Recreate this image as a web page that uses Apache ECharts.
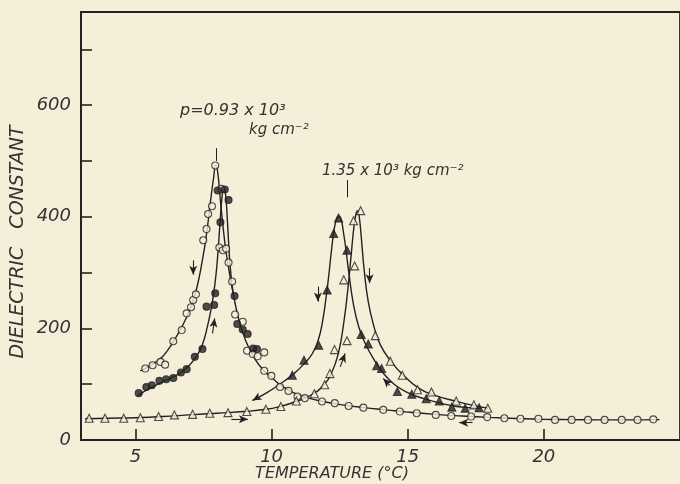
<!DOCTYPE html>
<html><head><meta charset="utf-8">
<script src="https://cdn.jsdelivr.net/npm/echarts@6/dist/echarts.min.js"></script>
<style>html,body{margin:0;padding:0;background:#f5efd9}#c{width:680px;height:484px}</style>
</head><body><div id="c"></div>
<script>
// ---- tick values ----
const xTickValues = [5, 10, 15, 20];
const yTickValues = [100, 200, 300, 400, 500, 600, 700];
const yLabelValues = [0, 200, 400, 600];

// ---- p = 0.93e3 kg/cm2, open circles (cooling) ----
const openCircles = [
  [5.36,128],[5.63,134],[5.92,140],[6.09,135],[6.39,177],[6.70,197],[6.88,227],[7.04,238],[7.12,251],[7.22,261],
  [7.49,358],[7.61,378],[7.67,405],[7.81,419],[7.93,492],[8.15,450],
  [8.08,345],[8.21,340],[8.33,343],[8.42,318],[8.55,284],[8.66,225],[8.94,212],[9.10,160],[9.31,154],[9.49,150],
  [9.73,157],[9.73,124],[9.99,115],[10.31,95],[10.62,88],[10.95,78],[11.22,75],[11.85,69],[12.32,66],[12.83,61],
  [13.37,58],[14.10,54],[14.71,51],[15.33,48],[16.03,45],[16.60,43],[17.33,42],[17.92,41],[18.55,39],[19.14,38],
  [19.80,38],[20.41,36],[21.02,36],[21.62,36],[22.23,36],[22.86,36],[23.44,36],[24.02,37]
];
const openCircleCurve = [
  [5.18,124],[5.50,132],[5.90,145],[6.20,162],[6.50,185],[6.80,212],[7.05,240],[7.25,272],[7.45,320],[7.60,365],
  [7.75,425],[7.87,470],[7.95,493],[8.02,480],[8.10,440],[8.20,390],[8.32,340],[8.45,300],[8.60,260],[8.80,215],
  [9.05,178],[9.35,148],[9.70,125],[10.00,112],[10.40,96],[10.80,85],[11.30,76],[11.90,69],[12.60,63],[13.40,58],
  [14.20,54],[15.00,50],[16.00,46],[17.00,43],[18.00,40.5],[19.00,38.5],[20.00,37],[21.00,36.5],[22.00,36],[23.00,36],
  [24.25,36.5]
];
// ---- p = 0.93e3, filled circles (heating) ----
const filledCircles = [
  [5.12,84],[5.40,95],[5.60,98],[5.88,106],[6.13,109],[6.39,111],[6.67,121],[6.88,127],[7.18,149],[7.46,163],
  [7.61,239],[7.89,242],[7.93,263],[8.12,390],[8.02,447],[8.28,449],[8.42,430],
  [8.64,258],[8.74,208],[8.94,198],[9.12,190],[9.32,164],[9.46,163]
];
const filledCircleCurve = [
  [5.10,80],[5.50,92],[6.00,104],[6.50,116],[6.90,130],[7.20,147],[7.45,170],[7.65,205],[7.80,240],[7.92,280],
  [8.02,330],[8.10,385],[8.17,430],[8.24,452],[8.31,440],[8.38,390],[8.45,330],[8.52,290],[8.60,260]
];
// ---- p = 1.35e3, open triangles (heating) ----
const openTriangles = [
  [3.30,39],[3.88,39],[4.57,39],[5.18,40],[5.85,42],[6.43,45],[7.10,46],[7.73,48],[8.40,49],[9.09,51],
  [9.79,55],[10.34,60],[10.91,70],[11.57,83],[11.95,99],[12.14,119],[12.31,162],[12.77,178],[12.65,287],[13.05,312],
  [13.01,393],[13.27,411],[13.81,187],[14.36,141],[14.80,116],[15.36,90],[15.87,86],[16.78,70],[17.43,63],[17.94,57]
];
const openTriangleCurve = [
  [3.15,38],[4.00,39],[5.00,40],[6.00,42],[7.00,45],[8.00,48],[9.00,51],[9.80,55],[10.30,60],[10.90,69],
  [11.50,82],[11.90,98],[12.20,120],[12.45,155],[12.65,210],[12.80,270],[12.92,330],[13.02,380],[13.10,405],[13.16,411],
  [13.22,400],[13.30,360],[13.40,305],[13.55,248],[13.75,205],[14.00,170],[14.40,140],[14.80,118],[15.40,93],[16.00,80],
  [16.80,69],[17.40,62],[17.95,57]
];
// ---- p = 1.35e3, filled triangles (cooling) ----
const filledTriangles = [
  [10.76,116],[11.19,143],[11.73,170],[12.04,269],[12.28,370],[12.46,398],[12.77,340],[13.29,189],[13.55,172],
  [13.86,133],[14.04,128],[14.62,87],[15.15,82],[15.68,74],[16.16,70],[16.62,59],[17.11,57],[17.62,58]
];
const filledTriangleCurve = [
  [9.30,71],[9.80,84],[10.30,100],[10.80,118],[11.20,137],[11.50,155],[11.72,180],[11.88,215],[12.00,255],[12.10,295],
  [12.20,340],[12.30,378],[12.40,398],[12.47,401],[12.55,396],[12.63,375],[12.72,345],[12.85,295],[13.00,245],[13.20,203],
  [13.45,172],[13.75,145],[14.10,120],[14.50,100],[15.00,85],[15.60,74],[16.20,66],[16.80,60],[17.30,58],[17.70,57]
];
// ---- direction arrows and label pointers [x1,y1,x2,y2] ----
const arrowSegments = [
  [7.12,322,7.12,296],
  [7.83,191,7.91,218],
  [8.52,37,9.13,37],
  [17.38,31,16.89,31],
  [11.70,275,11.70,248],
  [13.60,308,13.60,281],
  [12.52,131,12.70,155],
  [14.34,98,14.10,110],
  [9.45,75,9.30,71]
];
const pointerSegments = [
  [7.97,523,7.97,500],
  [12.77,466,12.77,435]
];

const INK = '#222222';
const BG = '#f5efd9';
const FONT = '"DejaVu Sans"';

function curve(data){
  return {type:'line', data, smooth:0.5, showSymbol:false, symbol:'none',
    lineStyle:{color:INK, width:1.4}, silent:true, z:2};
}
function pts(data, symbol, filled, size){
  return {type:'scatter', data, symbol, symbolSize:size,
    itemStyle:{color: filled ? INK : BG, borderColor:INK, borderWidth:1.1}, silent:true, z:5};
}
function seg(s){ return [{coord:[s[0],s[1]]},{coord:[s[2],s[3]]}]; }

const chart = echarts.init(document.getElementById('c'), null, {renderer:'canvas'});
chart.setOption({
  animation:false,
  backgroundColor: BG,
  grid:{left:81, top:12, right:-6, bottom:44, show:true, borderColor:INK, borderWidth:1.8, backgroundColor:'transparent'},
  xAxis:{type:'value', min:3, max:25,
    axisLine:{lineStyle:{color:INK, width:1.8}},
    splitLine:{show:false},
    axisTick:{inside:true, length:11, lineStyle:{color:INK, width:1.6}, customValues:xTickValues},
    axisLabel:{customValues:xTickValues, color:'#333', fontFamily:FONT, fontStyle:'italic', fontSize:18, margin:8}
  },
  yAxis:{type:'value', min:0, max:767,
    axisLine:{show:true, lineStyle:{color:INK, width:1.8}},
    splitLine:{show:false},
    axisTick:{show:true, inside:true, length:11, lineStyle:{color:INK, width:1.6}, customValues:yTickValues},
    axisLabel:{customValues:yLabelValues, color:'#333', fontFamily:FONT, fontStyle:'italic', fontSize:18, margin:10}
  },
  graphic:[
    {type:'text', x:18, y:242, rotation:Math.PI/2, style:{text:'DIELECTRIC   CONSTANT', align:'center', verticalAlign:'middle', font:'italic 19px '+FONT, fill:'#333'}},
    {type:'text', x:332, y:474, style:{text:'TEMPERATURE (°C)', align:'center', verticalAlign:'middle', font:'italic 16px '+FONT, fill:'#333'}},
    {type:'text', x:180, y:111, style:{text:'p=0.93 x 10³', align:'left', verticalAlign:'middle', font:'italic 16px '+FONT, fill:'#333'}},
    {type:'text', x:249, y:130, style:{text:'kg cm⁻²', align:'left', verticalAlign:'middle', font:'italic 15px '+FONT, fill:'#333'}},
    {type:'text', x:322, y:171, style:{text:'1.35 x 10³ kg cm⁻²', align:'left', verticalAlign:'middle', font:'italic 15px '+FONT, fill:'#333'}}
  ],
  series:[
    curve(openCircleCurve),
    curve(filledCircleCurve),
    curve(openTriangleCurve),
    curve(filledTriangleCurve),
    pts(openCircles,'circle',false,7),
    pts(filledCircles,'circle',true,7),
    pts(openTriangles,'triangle',false,8),
    Object.assign(pts(filledTriangles,'triangle',true,8),{
      markLine:{silent:true, symbol:['none','arrow'], symbolSize:[6,9], label:{show:false},
        lineStyle:{color:INK, width:1.1, type:'solid'}, data:arrowSegments.map(seg)}
    }),
    {type:'scatter', data:[], markLine:{silent:true, symbol:['none','none'], label:{show:false},
      lineStyle:{color:INK, width:1, type:'solid'}, data:pointerSegments.map(seg)}}
  ]
});
</script></body></html>
